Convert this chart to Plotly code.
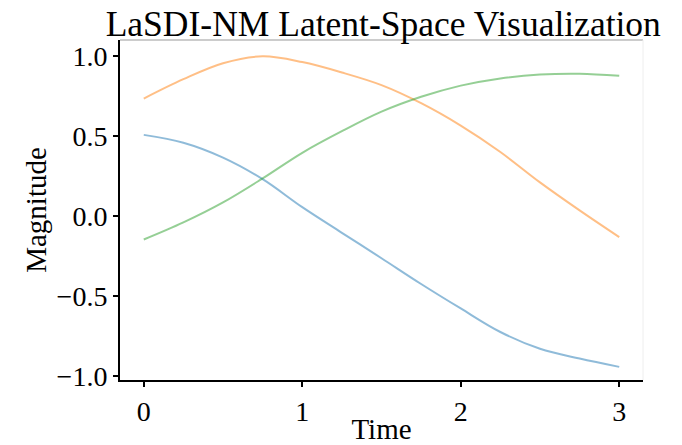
import plotly.graph_objects as go

time = [0.0, 0.25, 0.5, 0.75, 1.0, 1.25, 1.5, 1.75, 2.0, 2.25, 2.5, 2.75, 3.0]
latent_1 = [0.507, 0.458, 0.365, 0.23, 0.055, -0.105, -0.264, -0.425, -0.578, -0.725, -0.83, -0.891, -0.943]
latent_2 = [0.734, 0.855, 0.955, 0.998, 0.962, 0.897, 0.818, 0.705, 0.565, 0.40, 0.21, 0.035, -0.132]
latent_3 = [-0.147, -0.04, 0.085, 0.235, 0.395, 0.53, 0.652, 0.745, 0.815, 0.86, 0.884, 0.889, 0.876]

series = [latent_1, latent_2, latent_3]
colors = ["rgba(31,119,180,0.5)", "rgba(255,127,14,0.5)", "rgba(44,160,44,0.5)"]

x_ticks = [0, 1, 2, 3]
x_tick_text = ["0", "1", "2", "3"]
y_ticks = [-1.0, -0.5, 0.0, 0.5, 1.0]
y_tick_text = ["\u22121.0", "\u22120.5", "0.0", "0.5", "1.0"]

font_family = "Liberation Serif, Times New Roman, serif"

fig = go.Figure()
for vals, col in zip(series, colors):
    fig.add_trace(go.Scatter(x=time, y=vals, mode="lines",
                             line=dict(color=col, width=2, shape="spline", smoothing=1.0),
                             showlegend=False))

fig.update_layout(
    width=682, height=445,
    margin=dict(l=120, r=39, t=40, b=65),
    paper_bgcolor="white", plot_bgcolor="white",
    font=dict(family=font_family, color="black", size=28),
    title=dict(text="LaSDI-NM Latent-Space Visualization", x=0.562, xanchor="center",
               y=0.918, yanchor="bottom", yref="container",
               font=dict(family=font_family, size=35.5, color="black")),
    xaxis=dict(range=[-0.15, 3.15], tickvals=x_ticks, ticktext=x_tick_text,
               showgrid=False, zeroline=False, showline=True, linecolor="black", linewidth=2,
               ticks="outside", ticklen=5, tickwidth=1.5, tickcolor="black",
               tickfont=dict(size=28), automargin=False,
               title=dict(text="Time", standoff=8, font=dict(size=29))),
    yaxis=dict(range=[-1.025, 1.10], tickvals=y_ticks, ticktext=y_tick_text,
               showgrid=False, zeroline=False, showline=True, linecolor="black", linewidth=2,
               ticks="outside", ticklen=5, tickwidth=1.5, tickcolor="black",
               tickfont=dict(size=28), automargin=False,
               title=dict(text="Magnitude", standoff=1, font=dict(size=29))),
    shapes=[
        dict(type="line", xref="paper", yref="paper", x0=0, x1=1, y0=1, y1=1,
             line=dict(color="#bbbbbb", width=1.5)),
        dict(type="line", xref="paper", yref="paper", x0=1, x1=1, y0=0, y1=1,
             line=dict(color="#eeeeee", width=1)),
    ],
)

fig.write_html("out.html")
